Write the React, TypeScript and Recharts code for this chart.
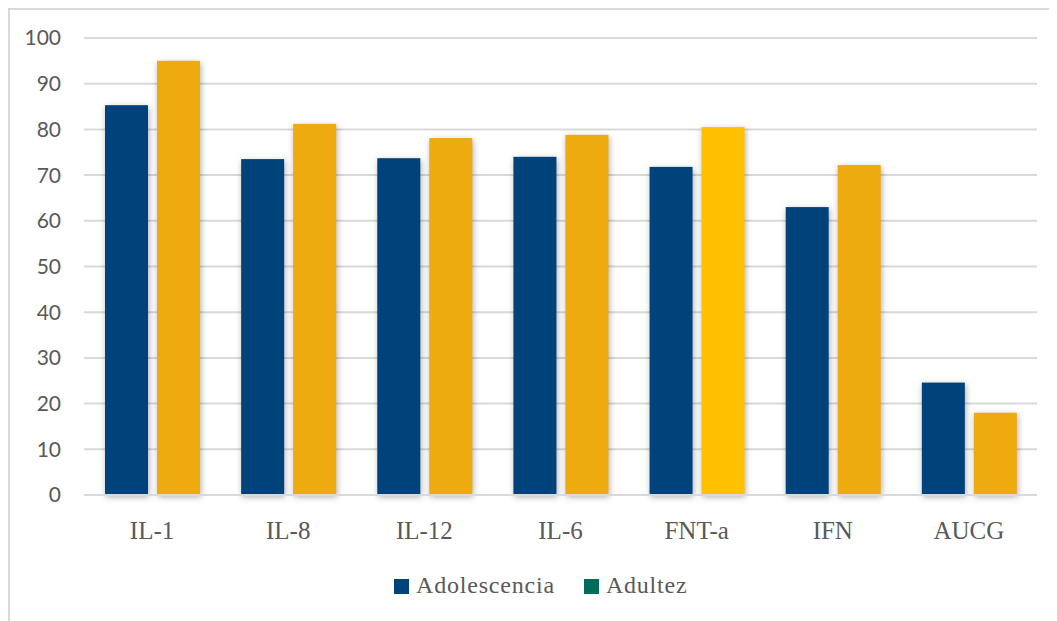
import React from 'react';
import { BarChart, Bar, XAxis, YAxis, CartesianGrid, Cell } from 'recharts';

// categorías y valores (%) por grupo de edad
const categorias = ['IL-1', 'IL-8', 'IL-12', 'IL-6', 'FNT-a', 'IFN', 'AUCG'];
const adolescencia = [85.3, 73.5, 73.7, 74.0, 71.8, 63.0, 24.6];
const adultez = [95.0, 81.2, 78.1, 78.8, 80.5, 72.2, 18.0];
const yTicks = [0, 10, 20, 30, 40, 50, 60, 70, 80, 90, 100];

const series = [
    { key: 'adolescencia', name: 'Adolescencia', color: '#00427A', legendColor: '#00427A' },
    { key: 'adultez', name: 'Adultez', color: '#EEAB10', legendColor: '#006A5B' },
];

// FNT-a adult bar is drawn in a brighter yellow
const destacado = { categoria: 'FNT-a', color: '#FFC000' };

const data = categorias.map((c, i) => ({
    categoria: c,
    adolescencia: adolescencia[i],
    adultez: adultez[i],
}));

const GRID = '#d9d9d9';
const TEXT = '#595959';

const ShadowBar = (props: any) => {
    const { x, y, width, height, fill } = props;
    if (!height || height <= 0) return null;
    return (
        <rect
            x={x}
            y={y}
            width={width}
            height={height}
            fill={fill}
            style={{ filter: 'drop-shadow(1px 2px 3px rgba(0,0,0,0.32))' }}
        />
    );
};

const Leyenda = () => (
    <div
        style={{
            position: 'absolute',
            left: 384,
            top: 563,
            display: 'flex',
            alignItems: 'flex-start',
            fontFamily: '"Liberation Serif", serif',
            fontSize: 24,
            lineHeight: '24px',
            color: TEXT,
        }}
    >
        {series.map((s, i) => (
            <div key={s.key} style={{ display: 'flex', alignItems: 'flex-start', marginRight: i === 0 ? 29 : 0 }}>
                <div style={{ width: 15, height: 15, marginTop: 6, marginRight: 7, background: s.legendColor }} />
                <span style={{ letterSpacing: 0.8 }}>{s.name}</span>
            </div>
        ))}
    </div>
);

export default function App() {
    return (
        <div
            style={{
                position: 'relative',
                width: 1047,
                height: 611,
                borderTop: `2px solid ${GRID}`,
                borderLeft: `2px solid ${GRID}`,
                background: '#fff',
            }}
        >
            <BarChart
                width={1047}
                height={611}
                data={data}
                margin={{ top: 28, right: 20, left: 0, bottom: 66 }}
                barSize={43}
                barGap={9}
            >
                <CartesianGrid vertical={false} stroke={GRID} strokeWidth={2} />
                <XAxis
                    dataKey="categoria"
                    height={60}
                    tickLine={false}
                    tickSize={0}
                    tickMargin={26}
                    axisLine={{ stroke: GRID, strokeWidth: 2 }}
                    tick={{ fill: TEXT, fontSize: 25, fontFamily: '"Liberation Serif", serif' }}
                    interval={0}
                />
                <YAxis
                    width={74}
                    domain={[0, 100]}
                    ticks={yTicks}
                    axisLine={false}
                    tickLine={false}
                    tickSize={0}
                    tickMargin={23}
                    tick={{ fill: TEXT, fontSize: 21, fontFamily: 'Lato, sans-serif' }}
                />
                {series.map(s => (
                    <Bar
                        key={s.key}
                        dataKey={s.key}
                        name={s.name}
                        fill={s.color}
                        shape={ShadowBar}
                        isAnimationActive={false}
                    >
                        {data.map(d => (
                            <Cell
                                key={d.categoria}
                                fill={s.key === 'adultez' && d.categoria === destacado.categoria ? destacado.color : s.color}
                            />
                        ))}
                    </Bar>
                ))}
            </BarChart>
            <Leyenda />
        </div>
    );
}
